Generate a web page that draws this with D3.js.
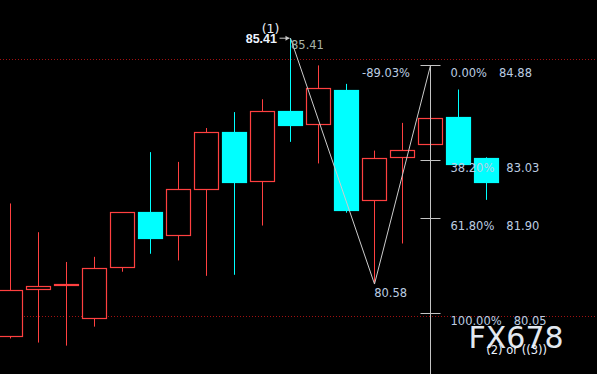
<!DOCTYPE html>
<html>
<head>
<meta charset="utf-8">
<script src="https://cdn.jsdelivr.net/npm/d3@7"></script>
<style>
  html, body { margin: 0; padding: 0; background: #000; }
  svg { display: block; }
  .lbl { font-family: "DejaVu Sans", sans-serif; font-size: 11.5px; fill: #bccde2; }
</style>
</head>
<body>
<svg id="chart" width="597" height="374"></svg>
<script>
// candles, oldest to newest (red hollow = up, cyan filled = down)
const opens  = [79.61, 80.52, 80.60, 79.95, 80.95, 82.02, 81.58, 82.47, 83.58, 82.62, 84.00, 83.73, 84.40, 82.25, 83.09, 83.35, 83.87, 83.07];
const highs  = [82.19, 81.63, 81.05, 81.15, 82.02, 83.19, 83.00, 83.66, 83.97, 84.22, 85.41, 84.88, 84.52, 83.22, 83.76, 83.85, 84.41, 83.09];
const lows   = [79.56, 79.48, 79.42, 79.79, 80.86, 81.21, 81.08, 80.78, 80.80, 81.76, 83.39, 82.97, 82.01, 80.62, 81.41, 83.35, 82.96, 82.26];
const closes = [80.50, 80.58, 80.62, 80.93, 82.02, 81.52, 82.47, 83.58, 82.61, 83.99, 83.71, 84.43, 82.07, 83.07, 83.23, 83.85, 82.96, 82.61];

// wave zigzag: candle index and price
const zigIdx    = [10, 13, 15];
const zigPrices = [85.41, 80.62, 84.88];

// fibonacci retracement
const fibLabels = ["0.00%", "38.20%", "61.80%", "100.00%"];
const fibPrices = [84.88, 83.03, 81.90, 80.05];

const gridPrices = [85.00, 80.00];

const svg = d3.select('#chart');
const W = 597, H = 374;
const UP = '#ff4040', DOWN = '#00ffff';

svg.append('rect').attr('width', W).attr('height', H).attr('fill', '#000');

const x = d3.scaleLinear().domain([0, opens.length - 1]).range([10.5, 486.5]);
const y = d3.scaleLinear().domain([80.05, 84.88]).range([313.3, 65.4]);

/* ── grid (dotted) ───────────────────────────── */
svg.append('g').selectAll('line').data(gridPrices).join('line')
  .attr('x1', 0).attr('x2', W)
  .attr('y1', d => Math.round(y(d)) + 0.5).attr('y2', d => Math.round(y(d)) + 0.5)
  .attr('stroke', '#a01010').attr('stroke-width', 1)
  .attr('stroke-dasharray', '1,2');

/* ── candles ─────────────────────────────────── */
const candles = svg.append('g');
opens.forEach((o, i) => {
  const c = closes[i];
  const up = c >= o;
  const col = up ? UP : DOWN;
  const cx = x(i);
  const top = Math.round(y(Math.max(o, c))) + 0.5;
  const bot = Math.round(y(Math.min(o, c))) + 0.5;
  const hi = y(highs[i]), lo = y(lows[i]);

  candles.append('line')
    .attr('x1', cx).attr('x2', cx).attr('y1', hi).attr('y2', top)
    .attr('stroke', col).attr('stroke-width', 1);
  candles.append('line')
    .attr('x1', cx).attr('x2', cx).attr('y1', bot).attr('y2', lo)
    .attr('stroke', col).attr('stroke-width', 1);
  candles.append('rect')
    .attr('x', cx - 12).attr('y', top)
    .attr('width', 24).attr('height', Math.max(bot - top, 1))
    .attr('fill', up ? '#000' : DOWN)
    .attr('stroke', col).attr('stroke-width', 1.2);
});

/* ── zigzag ──────────────────────────────────── */
const zig = zigIdx.map((d, k) => [x(d), y(zigPrices[k])]);
svg.append('path')
  .attr('d', d3.line()(zig))
  .attr('fill', 'none').attr('stroke', '#cccccc').attr('stroke-width', 1);

/* ── fibonacci tool ──────────────────────────── */
const fx = x(15);
const fib = svg.append('g');
fib.append('line')
  .attr('x1', fx).attr('x2', fx).attr('y1', y(fibPrices[0])).attr('y2', H)
  .attr('stroke', '#c4c4c4').attr('stroke-width', 1);
fib.selectAll('.tick').data(fibPrices).join('line')
  .attr('class', 'tick')
  .attr('x1', fx - 10).attr('x2', fx + 10)
  .attr('y1', d => Math.round(y(d)) + 0.5).attr('y2', d => Math.round(y(d)) + 0.5)
  .attr('stroke', '#c4c4c4').attr('stroke-width', 1);

fibPrices.forEach((p, k) => {
  const t = fib.append('text').attr('class', 'lbl')
    .attr('x', fx + 20).attr('y', y(p) + 11.5)
    .text(fibLabels[k]);
  const w = t.node().getComputedTextLength();
  fib.append('text').attr('class', 'lbl')
    .attr('x', fx + 20 + w + 12).attr('y', y(p) + 11.5)
    .text(p.toFixed(2));
});

fib.append('text').attr('class', 'lbl')
  .attr('x', fx - 20.5).attr('y', y(fibPrices[0]) + 11.5)
  .attr('text-anchor', 'end')
  .text('-89.03%');

/* ── wave labels ─────────────────────────────── */
const px = x(zigIdx[0]), py = y(zigPrices[0]);
svg.append('text')
  .attr('x', px - 20).attr('y', py - 5)
  .attr('text-anchor', 'middle')
  .style('font-family', '"DejaVu Sans", sans-serif').style('font-size', '12.5px')
  .attr('fill', '#e6eef8')
  .text('(1)');
svg.append('text')
  .attr('x', px - 13.5).attr('y', py + 4.8)
  .attr('text-anchor', 'end')
  .style('font-family', '"Liberation Sans", Arial, sans-serif').style('font-size', '12.5px')
  .style('font-weight', 'bold')
  .attr('fill', '#eef4ff')
  .text('85.41');
svg.append('line')
  .attr('x1', px - 11).attr('x2', px - 1).attr('y1', py).attr('y2', py)
  .attr('stroke', '#c8c8c8').attr('stroke-width', 1);
svg.append('path')
  .attr('d', `M${px - 1},${py} L${px - 5},${py - 2.5} L${px - 5},${py + 2.5} Z`)
  .attr('fill', '#c8c8c8');
svg.append('text').attr('class', 'lbl')
  .attr('x', px + 0.5).attr('y', py + 11)
  .style('fill', '#a8b4a8')
  .text('85.41');

svg.append('text').attr('class', 'lbl')
  .attr('x', x(zigIdx[1]) - 0.3).attr('y', y(zigPrices[1]) + 12.6)
  .text('80.58');

/* ── watermark ───────────────────────────────── */
svg.append('text')
  .attr('x', 468.5).attr('y', 348.3)
  .style('font-family', '"DejaVu Sans", sans-serif').style('font-size', '30px')
  .attr('fill', '#e2e8f0')
  .text('FX678');
svg.append('text')
  .attr('x', 486.3).attr('y', 354.3)
  .style('font-family', '"DejaVu Sans", sans-serif').style('font-size', '11.5px')
  .attr('fill', '#eef4ff')
  .text('(2) or ((3))');
</script>
</body>
</html>
